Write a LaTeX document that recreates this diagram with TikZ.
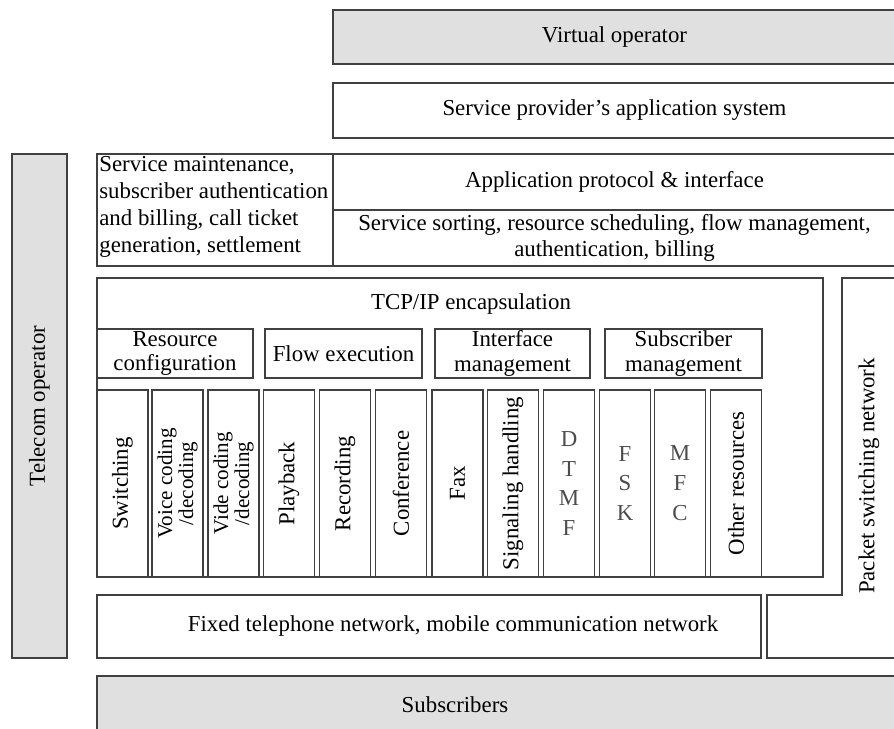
\documentclass[tikz,border=0pt]{standalone}
\usepackage{fontspec}
\setmainfont{Liberation Serif}

\begin{document}
\begin{tikzpicture}[x=0.02cm,y=-0.02cm,
    box/.style 2 args={draw=black!75, line width=0.9pt, minimum width=#1*0.02cm,
      minimum height=#2*0.02cm, inner sep=0pt, align=center,
      font=\fontsize{13}{14.5}\selectfont},
    gbox/.style 2 args={box={#1}{#2}, fill=black!12},
    col/.style={box={187}{51}, rotate=90},
    lcol/.style={box={51}{187}, font=\fontsize{13}{17}\selectfont, text=black!70},
    lbl/.style={inner sep=0pt, align=center, font=\fontsize{13}{14.5}\selectfont}]
    \useasboundingbox (0,0) rectangle (894,729);

    % upper layers
    \node[gbox={563}{54}] (virt) at (614.5,37) {Virtual operator};
    \node[box={563}{55}] (spa) at (614.5,110.5) {Service provider's application system};
    \node[box={563}{56}] (app) at (614.5,182) {Application protocol \& interface};
    \node[box={563}{56}] (sort) at (614.5,238) {Service sorting, resource scheduling, flow management,\\authentication, billing};
    \node[box={236}{112}] (maint) at (215,210) {};
    \node[lbl, anchor=north west, align=left, font=\fontsize{13}{15.4}\selectfont] (mainttxt) at (99,156)
      {Service maintenance,\\subscriber authentication\\and billing, call ticket\\generation, settlement};

    % telecom operator
    \node[gbox={55}{504}] (tele) at (39.5,406) {};
    \node[lbl, rotate=90] (teletxt) at (tele) {Telecom operator};

    % resource layer
    \node[box={726}{299}] (tcp) at (460,427.5) {};
    \node[lbl] (tcptxt) at (471,304) {TCP/IP encapsulation};
    \node[box={156}{49}, font=\fontsize{13}{14}\selectfont] (rescfg) at (175,353.5) {Resource\\configuration};
    \node[box={157}{49}] (flow) at (343.5,353.5) {Flow execution};
    \node[box={155}{49}, font=\fontsize{13}{14}\selectfont] (iface) at (512.5,353.5) {Interface\\management};
    \node[box={157}{49}, font=\fontsize{13}{14}\selectfont] (subm) at (683.5,353.5) {Subscriber\\management};

    \node[col] (sw) at (122.5,483.5) {Switching};
    \node[col, font=\fontsize{12}{10.5}\selectfont] (voice) at (177.5,483.5) {Voice coding\\/decoding};
    \node[col, font=\fontsize{12}{10.5}\selectfont] (video) at (233.5,483.5) {Vide coding\\/decoding};
    \node[col] (play) at (289,483.5) {Playback};
    \node[col] (rec) at (345,483.5) {Recording};
    \node[col] (conf) at (401,483.5) {Conference};
    \node[col] (fax) at (457.5,483.5) {Fax};
    \node[col] (sig) at (513,483.5) {Signaling handling};
    \node[lcol] (dtmf) at (569,483.5) {D\\T\\M\\F};
    \node[lcol] (fsk) at (625,483.5) {F\\S\\K};
    \node[lcol] (mfc) at (680,483.5) {M\\F\\C};
    \node[col] (other) at (736,483.5) {Other resources};

    % networks
    \node[box={664}{63}] (fixed) at (429,626.5) {};
    \node[lbl] (fixedtxt) at (453,626.5) {Fixed telephone network, mobile communication network};
    \draw[draw=black!75, line width=0.9pt] (842,278) -- (898,278) -- (898,658) -- (767,658)
      -- (767,595) -- (842,595) -- cycle;
    \node[lbl, rotate=90] (packet) at (869,476) {Packet switching network};

    % subscribers
    \node[gbox={801}{60}] (subs) at (497.5,706) {};
    \node[lbl] (substxt) at (455,705) {Subscribers};
\end{tikzpicture}
\end{document}
